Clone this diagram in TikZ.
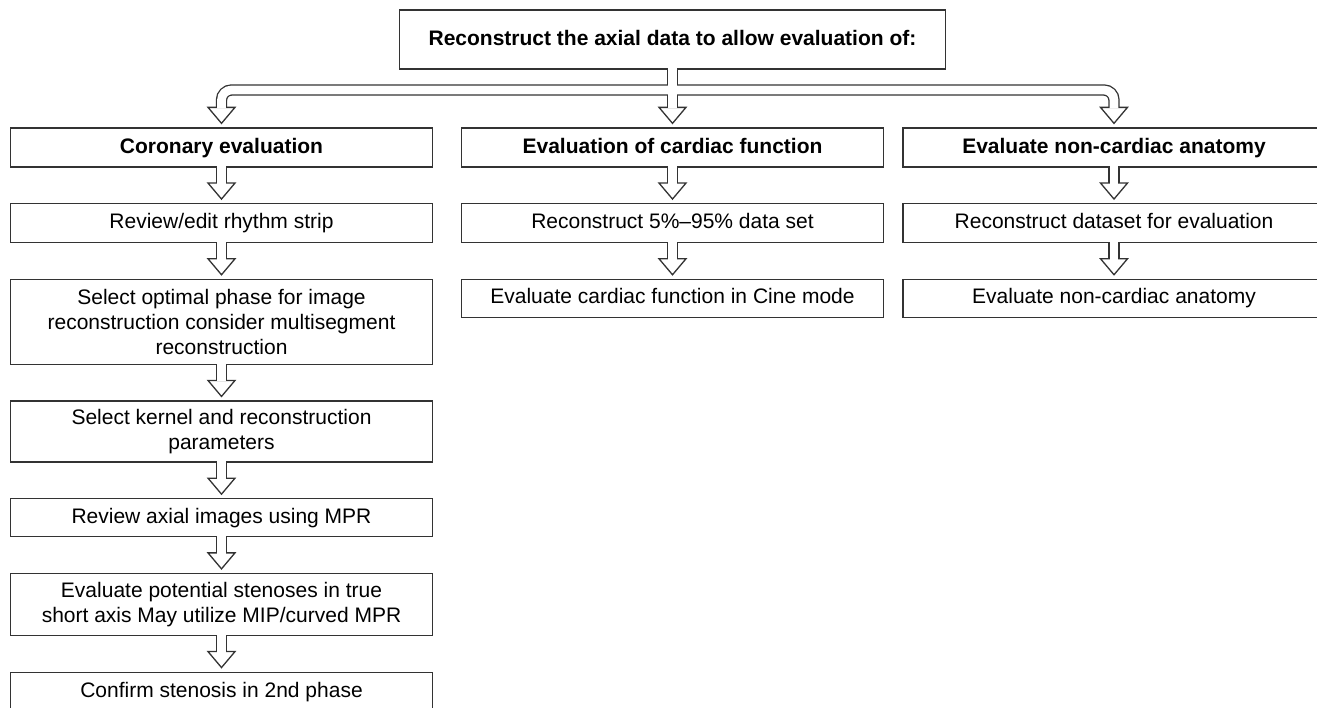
\documentclass[tikz,border=0pt]{standalone}
\usepackage{fontspec}
\setmainfont{Liberation Sans}
\usetikzlibrary{positioning}

% hollow block arrow pieces
\newcommand{\hollowhead}[1]{%
  \draw[hollowtip] ([shift={(-6.75pt,10pt)}]#1.north) -- ([yshift=2pt]#1.north) -- ([shift={(6.75pt,10pt)}]#1.north) -- cycle;}
\newcommand{\flowstep}[2]{%
  \draw[pipeout] (#1.south) -- ([yshift=10pt]#2.north);
  \hollowhead{#2}
  \draw[pipein] ([yshift=1pt]#1.south) -- ([yshift=9.5pt]#2.north);}

\begin{document}
\begin{tikzpicture}[
  x=0.5pt, y=0.5pt,
  node distance=17.7pt,
  box/.style={rectangle, draw=black!80, line width=0.65pt, align=center, font=\fontsize{10.5}{12.4}\selectfont, minimum width=211pt, minimum height=19.5pt, inner sep=3pt, text height=7.7pt, text depth=2.2pt},
  tallbox/.style={box, text height=, text depth=},
  headbox/.style={box, font=\fontsize{10.5}{12.4}\selectfont\bfseries},
  pipeout/.style={draw=black!80, line width=5.65pt},
  pipein/.style={draw=white, line width=4.35pt},
  hollowtip/.style={draw=black!80, fill=white, line width=0.65pt, line join=miter}
]
  \useasboundingbox (0,0) rectangle (1317,-707);

  \node[headbox, minimum width=273pt, minimum height=29.5pt] (top) at (672.5,-39.5) {Reconstruct the axial data to allow evaluation of:};
  \coordinate (bar) at (672.5,-90);

  % coronary column
  \node[headbox] (cor) at (221.5,-147.5) {Coronary evaluation};
  \node[box, below=of cor] (rhy) {Review/edit rhythm strip};
  \node[tallbox, below=of rhy, minimum height=42.5pt] (pha) {Select optimal phase for image\\reconstruction consider multisegment\\reconstruction};
  \node[tallbox, below=of pha, minimum height=30.5pt] (ker) {Select kernel and reconstruction\\parameters};
  \node[box, below=of ker, minimum height=19pt] (mpr) {Review axial images using MPR};
  \node[tallbox, below=of mpr, minimum height=31pt] (sten) {Evaluate potential stenoses in true\\short axis May utilize MIP/curved MPR};
  \node[box, below=of sten] (conf) {Confirm stenosis in 2nd phase};

  % function column
  \node[headbox] (fun) at (672.5,-147.5) {Evaluation of cardiac function};
  \node[box, below=of fun] (five) {Reconstruct 5\%--95\% data set};
  \node[box, below=of five, minimum height=19pt] (cine) {Evaluate cardiac function in Cine mode};

  % non-cardiac column
  \node[headbox] (non) at (1114,-147.5) {Evaluate non-cardiac anatomy};
  \node[box, below=of non] (set) {Reconstruct dataset for evaluation};
  \node[box, below=of set, minimum height=19pt] (ana) {Evaluate non-cardiac anatomy};

  % branching pipe
  \draw[pipeout, rounded corners=5pt] ([yshift=10pt]cor.north) |- (bar) -| ([yshift=10pt]non.north);
  \draw[pipeout] (top.south) -- ([yshift=10pt]fun.north);
  \hollowhead{cor}
  \hollowhead{fun}
  \hollowhead{non}
  \draw[pipein, rounded corners=5pt] ([yshift=9.5pt]cor.north) |- (bar) -| ([yshift=9.5pt]non.north);
  \draw[pipein] ([yshift=1pt]top.south) -- ([yshift=9.5pt]fun.north);

  \flowstep{cor}{rhy}
  \flowstep{rhy}{pha}
  \flowstep{pha}{ker}
  \flowstep{ker}{mpr}
  \flowstep{mpr}{sten}
  \flowstep{sten}{conf}
  \flowstep{fun}{five}
  \flowstep{five}{cine}
  \flowstep{non}{set}
  \flowstep{set}{ana}
\end{tikzpicture}
\end{document}
